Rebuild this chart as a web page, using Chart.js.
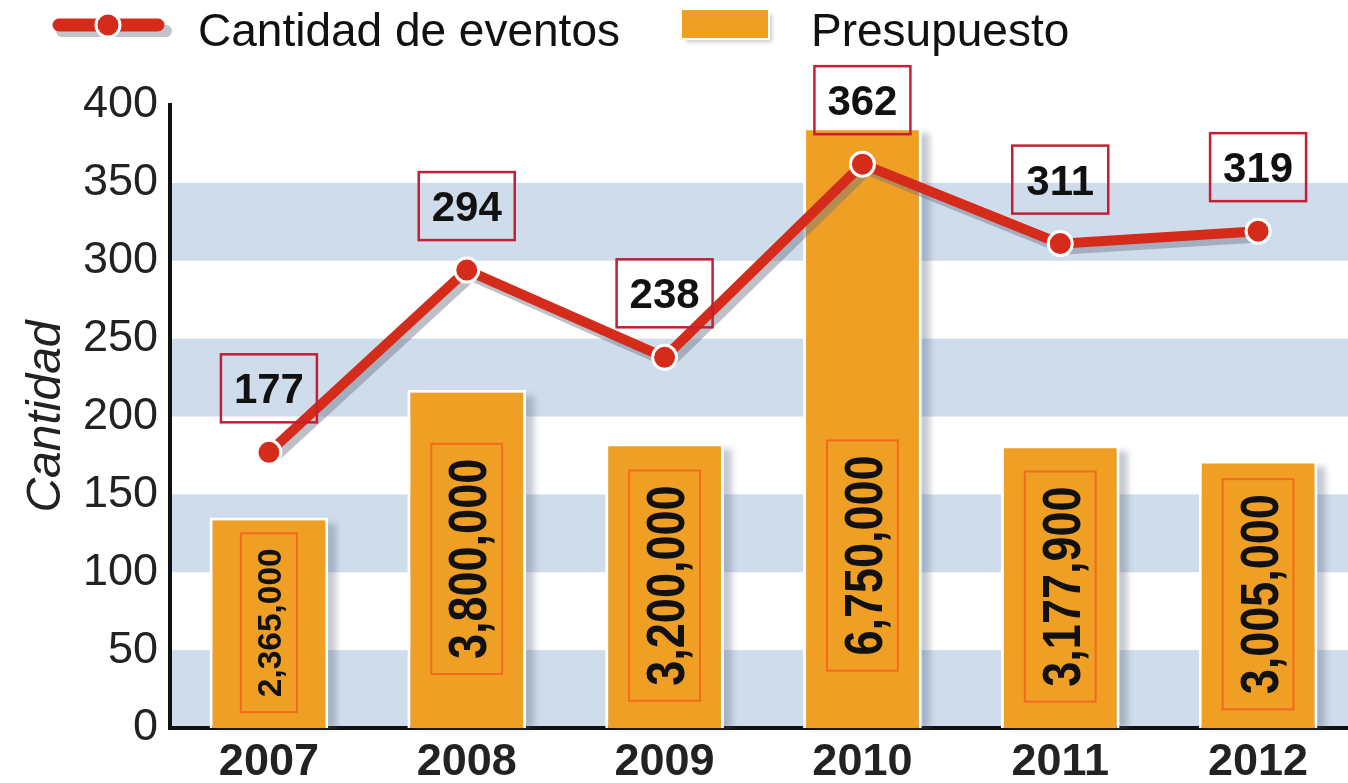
<!DOCTYPE html>
<html>
<head>
<meta charset="utf-8">
<script src="https://cdn.jsdelivr.net/npm/chart.js@4"></script>
<style>
  html, body { margin: 0; padding: 0; overflow: hidden; background: #fff; }
</style>
</head>
<body>
<canvas id="chart" width="1372" height="783"></canvas>
<script>
// Chart data
const years = ["2007", "2008", "2009", "2010", "2011", "2012"];
const eventCounts = [177, 294, 238, 362, 311, 319];
const budget = [2365000, 3800000, 3200000, 6750000, 3177900, 3005000];
const yTicks = [0, 50, 100, 150, 200, 250, 300, 350, 400];

const FONT = '"Liberation Sans", Arial, sans-serif';
const ORANGE = "#efa024";
const RED = "#d42b1a";
const BAND = "#cfdceb";

// alternating horizontal bands, drawn under the axes
const bandPlugin = {
  id: "bands",
  beforeDraw(chart) {
    const { ctx, chartArea, scales } = chart;
    const y = scales.y;
    ctx.save();
    ctx.fillStyle = BAND;
    for (let i = 0; i + 1 < yTicks.length; i += 2) {
      const top = y.getPixelForValue(yTicks[i + 1]);
      const bot = y.getPixelForValue(yTicks[i]);
      ctx.fillRect(chartArea.left, top, chart.width - chartArea.left, bot - top);
    }
    ctx.restore();
  }
};

// soft shadows behind bars and the line
const shadowPlugin = {
  id: "shadows",
  beforeDatasetsDraw(chart) {
    const ctx = chart.ctx;
    ctx.save();
    ctx.fillStyle = "rgba(90,100,125,0.35)";
    ctx.filter = "blur(3px)";
    chart.getDatasetMeta(1).data.forEach(b => {
      ctx.fillRect(b.x - b.width / 2 + 8, b.y + 6, b.width, b.base - b.y - 6);
    });
    ctx.restore();
  },
  beforeDatasetDraw(chart, args) {
    if (args.index !== 0) return;
    const ctx = chart.ctx;
    const pts = args.meta.data;
    ctx.save();
    ctx.strokeStyle = "rgba(110,115,135,0.45)";
    ctx.lineWidth = 10;
    ctx.lineJoin = "round";
    ctx.beginPath();
    pts.forEach((p, i) => (i ? ctx.lineTo(p.x + 5, p.y + 6) : ctx.moveTo(p.x + 5, p.y + 6)));
    ctx.stroke();
    ctx.restore();
  }
};

// value labels: boxes above the line points, vertical text inside the bars
const labelPlugin = {
  id: "labels",
  afterDatasetsDraw(chart) {
    const ctx = chart.ctx;
    ctx.save();

    // boxes over line points
    ctx.font = "bold 42px " + FONT;
    ctx.textAlign = "center";
    ctx.textBaseline = "alphabetic";
    chart.getDatasetMeta(0).data.forEach((p, i) => {
      const cx = p.x, cy = p.y - 64;
      ctx.strokeStyle = "#c41f35";
      ctx.lineWidth = 2.5;
      ctx.strokeRect(cx - 48, cy - 34, 96, 68);
      ctx.fillStyle = "#111";
      ctx.fillText(String(eventCounts[i]), cx, cy + 15);
    });

    // rotated budget numbers in bars
    chart.getDatasetMeta(1).data.forEach((b, i) => {
      const text = budget[i].toLocaleString("en-US");
      const barH = b.base - b.y;
      const size = Math.min(45, (barH - 60) / 4.5);
      const stretch = size >= 45 ? 1.2 : 1;
      const cy = (b.base + Math.max(b.y, b.base - 345)) / 2;
      ctx.save();
      ctx.translate(b.x, cy);
      ctx.rotate(-Math.PI / 2);
      ctx.font = "bold " + size + "px " + FONT;
      const tw = ctx.measureText(text).width;
      const glyph = size * 0.72 * stretch;
      ctx.strokeStyle = "#f36a1e";
      ctx.lineWidth = 2;
      ctx.strokeRect(-tw / 2 - 15, -glyph / 2 - 16, tw + 30, glyph + 32);
      ctx.scale(1, stretch);
      ctx.fillStyle = "#111";
      ctx.textAlign = "center";
      ctx.fillText(text, 0, size * 0.36);
      ctx.restore();
    });
    ctx.restore();
  }
};

// custom legend at the top
const legendPlugin = {
  id: "topLegend",
  afterDraw(chart) {
    const ctx = chart.ctx;
    const ds = chart.data.datasets;
    ctx.save();
    ctx.lineCap = "round";
    // line icon
    ctx.strokeStyle = "rgba(120,125,140,0.45)";
    ctx.lineWidth = 12;
    ctx.beginPath(); ctx.moveTo(62, 31); ctx.lineTo(166, 31); ctx.stroke();
    ctx.strokeStyle = RED;
    ctx.lineWidth = 13;
    ctx.beginPath(); ctx.moveTo(59, 25); ctx.lineTo(158, 25); ctx.stroke();
    ctx.beginPath(); ctx.arc(108, 25, 12, 0, Math.PI * 2);
    ctx.fillStyle = RED; ctx.fill();
    ctx.strokeStyle = "#fff"; ctx.lineWidth = 3; ctx.stroke();

    ctx.font = "46px " + FONT;
    ctx.fillStyle = "#111";
    ctx.textBaseline = "alphabetic";
    ctx.fillText(ds[0].label, 198, 46);

    // bar icon
    ctx.fillStyle = "rgba(120,125,140,0.4)";
    ctx.filter = "blur(2px)";
    ctx.fillRect(686, 14, 86, 28);
    ctx.filter = "none";
    ctx.fillStyle = "#fff";
    ctx.fillRect(680, 8, 90, 32);
    ctx.fillStyle = ORANGE;
    ctx.fillRect(682, 10, 86, 28);

    ctx.fillStyle = "#111";
    ctx.fillText(ds[1].label, 811, 46);
    ctx.restore();
  }
};

new Chart(document.getElementById("chart"), {
  data: {
    labels: years,
    datasets: [
      {
        type: "line",
        label: "Cantidad de eventos",
        data: eventCounts,
        yAxisID: "y",
        order: 0,
        borderColor: RED,
        borderWidth: 10,
        pointRadius: 12,
        pointBackgroundColor: RED,
        pointBorderColor: "#fff",
        pointBorderWidth: 3,
        tension: 0
      },
      {
        type: "bar",
        label: "Presupuesto",
        data: budget,
        yAxisID: "y2",
        order: 1,
        backgroundColor: ORANGE,
        borderColor: "#fff",
        borderWidth: 3,
        barPercentage: 0.6,
        categoryPercentage: 1
      }
    ]
  },
  options: {
    responsive: false,
    animation: false,
    layout: { padding: { top: 105, right: 2, left: 0, bottom: 0 } },
    plugins: { legend: { display: false }, tooltip: { enabled: false } },
    scales: {
      x: {
        ticks: { font: { size: 45, weight: "bold", family: FONT }, color: "#222", padding: 8 },
        grid: { display: false, drawTicks: false },
        border: { color: "#111", width: 4 },
        afterFit(scale) { scale.height = 55; }
      },
      y: {
        min: 0,
        max: 400,
        afterBuildTicks(scale) { scale.ticks = yTicks.map(v => ({ value: v })); },
        ticks: { font: { size: 45, family: FONT }, color: "#222", padding: 12 },
        grid: { display: false, drawTicks: false },
        border: { color: "#111", width: 4 },
        title: {
          display: true,
          text: "Cantidad",
          font: { size: 48, style: "italic", family: FONT },
          color: "#222",
          padding: { top: 18, bottom: 0 }
        },
        afterFit(scale) { scale.width = 170; }
      },
      y2: { display: false, position: "right", min: 0, max: 7000000 }
    }
  },
  plugins: [bandPlugin, shadowPlugin, labelPlugin, legendPlugin]
});
</script>
</body>
</html>
